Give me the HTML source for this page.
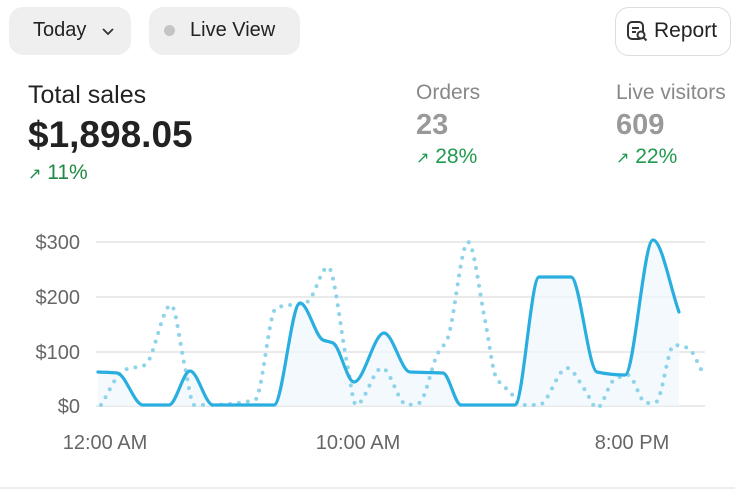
<!DOCTYPE html>
<html><head><meta charset="utf-8"><style>
body{margin:0;width:735px;height:490px;background:#fff;font-family:"Liberation Sans",sans-serif;position:relative;overflow:hidden}
.a{position:absolute;white-space:nowrap}
.btn{position:absolute;background:#efefef;border-radius:14px;height:48px;top:7px}
</style></head><body>
<div class="btn" style="left:9px;width:122px"></div>
<div class="a" style="left:33px;top:19px;font-size:20px;color:#222">Today</div>
<svg class="a" style="left:101px;top:26px" width="14" height="10"><path d="M2 3 L7 8 L12 3" stroke="#333" stroke-width="1.8" fill="none"/></svg>
<div class="btn" style="left:149px;width:151px"></div>
<div class="a" style="left:164px;top:25px;width:11px;height:11px;border-radius:50%;background:#c4c4c4"></div>
<div class="a" style="left:190px;top:19px;font-size:20px;color:#222">Live View</div>
<div class="a" style="left:615px;top:7px;width:114px;height:47px;border:1.5px solid #ddd;border-radius:14px"></div>
<svg class="a" style="left:626px;top:20px" width="24" height="24"><rect x="2" y="2" width="15" height="17" rx="4" stroke="#333" stroke-width="2" fill="none"/><path d="M6 8h7M6 12h4" stroke="#333" stroke-width="2"/><circle cx="15" cy="15" r="3.5" stroke="#333" stroke-width="2" fill="#fff"/><path d="M17.5 17.5l3 3" stroke="#333" stroke-width="2"/></svg>
<div class="a" style="left:654px;top:19px;font-size:21px;color:#222">Report</div>

<div class="a" style="left:28px;top:81px;font-size:25px;color:#222">Total sales</div>
<div class="a" style="left:28px;top:114px;font-size:37px;font-weight:bold;color:#222">$1,898.05</div>
<div class="a" style="left:28px;top:161px;font-size:21px;color:#1f8a45"><span style="font-size:16px">↗</span> 11%</div>
<div class="a" style="left:416px;top:81px;font-size:21px;color:#888">Orders</div>
<div class="a" style="left:416px;top:109px;font-size:29px;font-weight:bold;color:#999">23</div>
<div class="a" style="left:416px;top:145px;font-size:21px;color:#1f9a50"><span style="font-size:16px">↗</span> 28%</div>
<div class="a" style="left:616px;top:81px;font-size:21px;color:#888">Live visitors</div>
<div class="a" style="left:616px;top:109px;font-size:29px;font-weight:bold;color:#999">609</div>
<div class="a" style="left:616px;top:145px;font-size:21px;color:#1f9a50"><span style="font-size:16px">↗</span> 22%</div>

<svg class="a" style="left:0;top:0" width="735" height="490" id="ch">
<g stroke="#e3e3e3" stroke-width="1.5">
<line x1="96" y1="242" x2="705" y2="242"/><line x1="96" y1="297" x2="705" y2="297"/><line x1="96" y1="352" x2="705" y2="352"/><line x1="96" y1="406" x2="705" y2="406"/>
<line x1="0" y1="488" x2="735" y2="488" stroke="#e8e8e8"/>
</g>
<g font-size="20" fill="#666" text-anchor="end" font-family="Liberation Sans,sans-serif">
<text x="80" y="249">$300</text><text x="80" y="304">$200</text><text x="80" y="359">$100</text><text x="80" y="413">$0</text>
</g>
<g font-size="20" fill="#666" text-anchor="middle" font-family="Liberation Sans,sans-serif">
<text x="105" y="449">12:00 AM</text><text x="358" y="449">10:00 AM</text><text x="632" y="449">8:00 PM</text>
</g>
<path id="fill" fill="#eef7fc" opacity="0.7"/>
<path id="dot" fill="none" stroke="#8fd3ea" stroke-width="4" stroke-linecap="round" stroke-dasharray="0 9"/>
<path id="sol" fill="none" stroke="#2aaee0" stroke-width="3.2" stroke-linecap="round" stroke-linejoin="round"/>
</svg>
<script>
function mono(p){const n=p.length,dx=[],m=[],t=[];
for(let i=0;i<n-1;i++){dx[i]=p[i+1][0]-p[i][0];m[i]=(p[i+1][1]-p[i][1])/dx[i];}
t[0]=m[0];t[n-1]=m[n-2];
for(let i=1;i<n-1;i++){if(m[i-1]*m[i]<=0)t[i]=0;else{const w1=2*dx[i]+dx[i-1],w2=dx[i]+2*dx[i-1];t[i]=(w1+w2)/(w1/m[i-1]+w2/m[i]);}}
let d="M"+p[0][0]+" "+p[0][1];
for(let i=0;i<n-1;i++){const h=dx[i]/3;d+=" C"+(p[i][0]+h)+" "+(p[i][1]+t[i]*h)+" "+(p[i+1][0]-h)+" "+(p[i+1][1]-t[i+1]*h)+" "+p[i+1][0]+" "+p[i+1][1];}
return d;}
const s=[[98,372],[117,373],[143,405],[169,405],[190,371],[213,405],[274,405],[300,303],[323,340],[333,343],[354,382],[384,333],[410,372],[443,373],[461,405],[515,405],[539,277],[571,277],[597,372],[625,375],[653,240],[679,312]];
const d=[[101,405],[124,370],[145,365],[171,305],[185,367],[194,405],[206,405],[255,400],[276,308],[307,302],[328,267],[347,363],[356,405],[382,368],[407,405],[419,403],[438,353],[447,340],[468,242],[485,320],[496,377],[511,393],[520,405],[539,405],[567,368],[585,390],[597,408],[614,380],[628,375],[646,403],[656,402],[674,345],[688,348],[703,373]];
const sp=mono(s);document.getElementById("sol").setAttribute("d",sp);
document.getElementById("fill").setAttribute("d",sp+" L679 406 L98 406 Z");
document.getElementById("dot").setAttribute("d",mono(d));
</script>
</body></html>
